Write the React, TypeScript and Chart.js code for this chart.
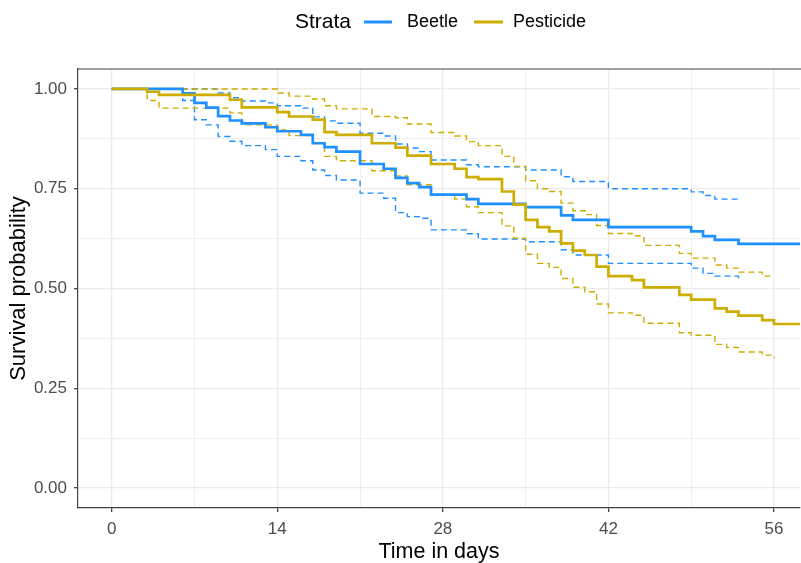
import React, { useEffect, useRef } from 'react';
import { Chart, registerables } from 'chart.js';

Chart.register(...registerables);

// ---- Data ----
const xTicks = [0, 7, 14, 21, 28, 35, 42, 49, 56];
const yTicks = [0, 0.125, 0.25, 0.375, 0.5, 0.625, 0.75, 0.875, 1];
const legendTitle = 'Strata';
const seriesNames = ['Beetle', 'Pesticide'];
const seriesColors = ['#1E90FF', '#CDAD00'];
const lastTime = 59;

// Beetle
const beetleTime = [0, 6, 7, 8, 9, 10, 11, 13, 14, 16, 17, 18, 19, 21, 23, 24, 25, 26, 27, 30, 31, 35, 38, 39, 42, 49, 50, 51, 53];
const beetleSurv = [1, 0.989, 0.965, 0.953, 0.932, 0.921, 0.914, 0.904, 0.894, 0.885, 0.864, 0.854, 0.843, 0.812, 0.8, 0.777, 0.764, 0.754, 0.735, 0.724, 0.712, 0.704, 0.683, 0.672, 0.654, 0.643, 0.631, 0.622, 0.612];
const beetleUpper = [1, 1, 1, 1, 0.99, 0.978, 0.97, 0.965, 0.958, 0.952, 0.93, 0.92, 0.914, 0.889, 0.882, 0.862, 0.852, 0.843, 0.822, 0.81, 0.805, 0.797, 0.78, 0.768, 0.75, 0.742, 0.733, 0.724, 0.724];
const beetleLower = [1, 0.971, 0.923, 0.91, 0.881, 0.869, 0.858, 0.848, 0.831, 0.82, 0.797, 0.783, 0.772, 0.739, 0.726, 0.69, 0.68, 0.676, 0.647, 0.637, 0.624, 0.617, 0.597, 0.584, 0.563, 0.551, 0.538, 0.531, 0.521];

// Pesticide
const pestTime = [0, 3, 4, 10, 11, 14, 15, 17, 18, 19, 22, 24, 25, 27, 29, 30, 31, 33, 34, 35, 36, 37, 38, 39, 40, 41, 42, 44, 45, 48, 49, 51, 52, 53, 55, 56];
const pestSurv = [1, 0.993, 0.985, 0.973, 0.954, 0.942, 0.931, 0.923, 0.892, 0.885, 0.864, 0.853, 0.833, 0.812, 0.8, 0.779, 0.774, 0.743, 0.71, 0.672, 0.654, 0.643, 0.613, 0.595, 0.584, 0.555, 0.531, 0.521, 0.503, 0.484, 0.472, 0.45, 0.442, 0.432, 0.421, 0.411];
const pestUpper = [1, 1, 1, 1, 1, 0.99, 0.982, 0.975, 0.958, 0.95, 0.931, 0.928, 0.912, 0.891, 0.882, 0.868, 0.858, 0.831, 0.806, 0.77, 0.75, 0.743, 0.714, 0.695, 0.685, 0.658, 0.638, 0.632, 0.608, 0.588, 0.576, 0.559, 0.551, 0.541, 0.531, 0.53];
const pestLower = [1, 0.971, 0.952, 0.94, 0.91, 0.897, 0.883, 0.865, 0.831, 0.82, 0.795, 0.782, 0.76, 0.735, 0.724, 0.705, 0.69, 0.657, 0.626, 0.586, 0.563, 0.553, 0.525, 0.503, 0.492, 0.461, 0.439, 0.433, 0.413, 0.389, 0.383, 0.36, 0.352, 0.341, 0.333, 0.325];

const FONT = '"Liberation Sans", Arial, Helvetica, sans-serif';

function toPoints(times: number[], values: number[], extendTo?: number) {
  const pts = times.map((t, i) => ({ x: t, y: values[i] }));
  if (extendTo !== undefined) pts.push({ x: extendTo, y: values[values.length - 1] });
  return pts;
}

const isMajorX = (v: number) => v % 14 === 0;
const isMajorY = (v: number) => Math.abs(v * 4 - Math.round(v * 4)) < 1e-6;

const legendPlugin = {
  id: 'ggLegend',
  afterDraw(chart: any) {
    const ctx = chart.ctx;
    const ca = chart.chartArea;
    ctx.save();
    // top panel border
    ctx.strokeStyle = '#444444';
    ctx.lineWidth = 1.2;
    ctx.beginPath();
    ctx.moveTo(ca.left, ca.top);
    ctx.lineTo(ca.right + 2, ca.top);
    ctx.stroke();

    const cy = 22;
    ctx.textBaseline = 'middle';
    ctx.textAlign = 'left';
    ctx.fillStyle = '#000000';
    ctx.font = `21px ${FONT}`;
    ctx.fillText(legendTitle, 295, cy);
    const items = [
      { line: [364, 392], text: 407 },
      { line: [474, 503], text: 513 },
    ];
    ctx.font = `18px ${FONT}`;
    items.forEach((it, i) => {
      ctx.strokeStyle = seriesColors[i];
      ctx.lineWidth = 3;
      ctx.beginPath();
      ctx.moveTo(it.line[0], cy);
      ctx.lineTo(it.line[1], cy);
      ctx.stroke();
      ctx.fillStyle = '#000000';
      ctx.fillText(seriesNames[i], it.text, cy);
    });
    ctx.restore();
  },
};

export default function App() {
  const ref = useRef<HTMLCanvasElement | null>(null);
  useEffect(() => {
    if (!ref.current) return;
    const solidW = 2.7;
    const dashW = 1.4;
    const dash = [6, 4];
    const chart = new Chart(ref.current, {
      type: 'line',
      data: {
        datasets: [
          { label: 'Pesticide', data: toPoints(pestTime, pestSurv, lastTime), borderColor: seriesColors[1], borderWidth: solidW, stepped: true, pointRadius: 0, fill: false },
          { label: 'Beetle', data: toPoints(beetleTime, beetleSurv, lastTime), borderColor: seriesColors[0], borderWidth: solidW, stepped: true, pointRadius: 0, fill: false },
          { label: 'Pesticide upper', data: toPoints(pestTime, pestUpper), borderColor: seriesColors[1], borderWidth: dashW, borderDash: dash, stepped: true, pointRadius: 0, fill: false },
          { label: 'Pesticide lower', data: toPoints(pestTime, pestLower), borderColor: seriesColors[1], borderWidth: dashW, borderDash: dash, stepped: true, pointRadius: 0, fill: false },
          { label: 'Beetle upper', data: toPoints(beetleTime, beetleUpper), borderColor: seriesColors[0], borderWidth: dashW, borderDash: dash, stepped: true, pointRadius: 0, fill: false },
          { label: 'Beetle lower', data: toPoints(beetleTime, beetleLower), borderColor: seriesColors[0], borderWidth: dashW, borderDash: dash, stepped: true, pointRadius: 0, fill: false },
        ],
      },
      options: {
        animation: false,
        responsive: false,
        devicePixelRatio: 1,
        parsing: false,
        layout: { padding: { top: 69, right: 1, left: 0, bottom: 0 } },
        plugins: { legend: { display: false }, tooltip: { enabled: false } },
        scales: {
          x: {
            type: 'linear',
            min: -2.85,
            max: 58.2,
            afterBuildTicks: (s: any) => { s.ticks = xTicks.map((v) => ({ value: v })); },
            afterFit: (s: any) => { s.height = 55; },
            ticks: {
              autoSkip: false,
              maxRotation: 0,
              padding: 7,
              color: '#4D4D4D',
              font: { family: FONT, size: 17 },
              callback: (v: any) => (isMajorX(Number(v)) ? String(v) : ''),
            },
            grid: {
              color: '#EBEBEB',
              lineWidth: (c: any) => (c.tick && isMajorX(c.tick.value) ? 1.3 : 0.8),
              tickColor: (c: any) => (c.tick && isMajorX(c.tick.value) ? '#444444' : 'rgba(0,0,0,0)'),
              tickLength: 4,
              drawTicks: true,
            },
            border: { display: true, color: '#444444', width: 1.2 },
            title: { display: true, text: 'Time in days', color: '#000000', font: { family: FONT, size: 21.5, lineHeight: 1.05 }, padding: { top: 0, bottom: 0 } },
          },
          y: {
            type: 'linear',
            min: -0.05,
            max: 1.05,
            afterBuildTicks: (s: any) => { s.ticks = yTicks.map((v) => ({ value: v })); },
            afterFit: (s: any) => { s.width = 78; },
            ticks: {
              autoSkip: false,
              padding: 7,
              color: '#4D4D4D',
              font: { family: FONT, size: 17 },
              callback: (v: any) => (isMajorY(Number(v)) ? Number(v).toFixed(2) : ''),
            },
            grid: {
              color: '#EBEBEB',
              lineWidth: (c: any) => (c.tick && isMajorY(c.tick.value) ? 1.3 : 0.8),
              tickColor: (c: any) => (c.tick && isMajorY(c.tick.value) ? '#444444' : 'rgba(0,0,0,0)'),
              tickLength: 4,
              drawTicks: true,
            },
            border: { display: true, color: '#444444', width: 1.2 },
            title: { display: true, text: 'Survival probability', color: '#000000', font: { family: FONT, size: 22 }, padding: { top: 6, bottom: 0 } },
          },
        },
      },
      plugins: [legendPlugin],
    } as any);
    return () => chart.destroy();
  }, []);

  return (
    <div style={{ position: 'absolute', left: 0, top: 0, width: 801, height: 563, background: '#ffffff' }}>
      <canvas ref={ref} width={801} height={563} style={{ display: 'block', width: 801, height: 563 }} />
    </div>
  );
}
